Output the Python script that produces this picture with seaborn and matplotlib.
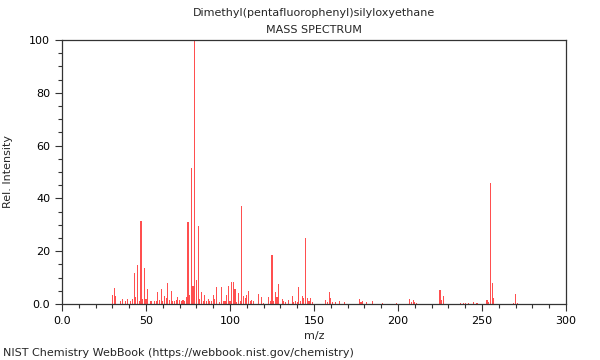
import matplotlib
matplotlib.use('Agg')
import matplotlib.pyplot as plt
import seaborn as sns
import pandas as pd
from matplotlib.ticker import MultipleLocator, FuncFormatter

mz = [30, 31, 32, 35, 36, 38, 39, 41, 42, 43, 44, 45, 46, 47, 48, 49, 50, 51, 53, 55,
      56, 57, 58, 59, 60, 61, 62, 63, 64, 65, 66, 67, 68, 69, 70, 71, 72, 73, 74, 75,
      76, 77, 78, 79, 80, 81, 82, 83, 84, 85, 86, 87, 88, 89, 90, 91, 92, 94, 95, 96,
      97, 98, 99, 100, 101, 102, 103, 104, 105, 106, 107, 108, 109, 110, 111, 112, 113, 114, 117, 119,
      120, 123, 124, 125, 126, 127, 128, 129, 131, 132, 133, 135, 137, 138, 139, 140, 141, 142, 143, 144,
      145, 146, 147, 148, 149, 157, 158, 159, 160, 161, 163, 165, 168, 177, 178, 179, 181, 185, 191, 199,
      207, 208, 209, 210, 211, 225, 226, 227, 237, 239, 240, 242, 245, 247, 253, 254, 255, 256, 257, 269,
      270, 271]
intensidade = [3.4, 6.2, 3.2, 1.0, 2.0, 1.0, 2.0, 1.0, 2.0, 11.9, 2.5, 14.8, 1.0, 31.6, 2.0, 13.8, 2.0, 5.7, 1.0, 1.0,
               1.0, 4.4, 1.5, 5.8, 1.0, 3.0, 2.3, 8.0, 1.5, 5.0, 1.0, 1.0, 1.5, 2.5, 1.5, 1.0, 1.7, 1.0, 2.6, 31.1,
               3.5, 51.4, 6.8, 100.0, 9.0, 29.5, 2.0, 4.5, 1.3, 3.4, 1.0, 2.0, 1.2, 1.3, 3.3, 2.0, 6.3, 0.7, 6.3, 1.0,
               1.0, 3.4, 7.0, 1.0, 8.5, 8.3, 5.7, 0.7, 4.1, 1.0, 37.3, 2.9, 2.3, 3.5, 5.0, 1.0, 1.7, 1.3, 3.8, 2.8,
               0.5, 2.8, 1.3, 18.7, 1.3, 4.4, 2.8, 7.6, 1.9, 1.0, 0.7, 1.6, 3.0, 0.6, 1.0, 0.6, 6.3, 1.0, 3.2, 2.3,
               25.0, 2.3, 1.1, 2.3, 0.6, 1.7, 0.6, 4.6, 2.3, 0.6, 0.6, 1.3, 0.6, 1.9, 0.8, 1.2, 0.6, 1.2, 0.5, 0.5,
               1.9, 0.6, 1.5, 0.8, 0.4, 5.3, 1.6, 2.9, 0.4, 0.5, 0.5, 0.5, 0.7, 0.3, 1.6, 0.6, 46.0, 7.8, 2.2, 0.5,
               3.8, 0.4]

titulo = 'Dimethyl(pentafluorophenyl)silyloxyethane'
subtitulo = 'MASS SPECTRUM'
rodape = 'NIST Chemistry WebBook (https://webbook.nist.gov/chemistry)'

dados_df = pd.DataFrame({'mz': mz, 'int': intensidade})

sns.set_style('white')
plt.rcParams['font.family'] = ['DejaVu Sans']

fig = plt.figure(figsize=(6, 3.6), dpi=100)
ax = fig.add_axes([62/600, 1-304/360, 504/600, 264/360])

sns.barplot(data=dados_df, x='mz', y='int', native_scale=True, width=0.65,
            color='#ff4f4f', saturation=1, errorbar=None, ax=ax, linewidth=0)

ax.set_xlim(0, 300)
ax.set_ylim(0, 100)
ax.xaxis.set_major_locator(MultipleLocator(50))
ax.xaxis.set_minor_locator(MultipleLocator(10))
ax.yaxis.set_major_locator(MultipleLocator(20))
ax.yaxis.set_minor_locator(MultipleLocator(5))
fmt = FuncFormatter(lambda v, p: '0.0' if v == 0 else f'{v:.0f}')
ax.xaxis.set_major_formatter(fmt)
ax.yaxis.set_major_formatter(fmt)
ax.tick_params(which='major', direction='out', length=5, width=0.8, labelsize=8, colors='#333333', labelcolor='black')
ax.tick_params(which='minor', direction='out', length=3, width=0.8, colors='#333333')
ax.tick_params(bottom=True, left=True, which='both')
for s in ax.spines.values():
    s.set_color('#333333')
    s.set_linewidth(0.9)

ax.set_xlabel('m/z', fontsize=8, labelpad=4)
ax.set_ylabel('Rel. Intensity', fontsize=8, labelpad=12)
fig.text(0.5 + 14/600, 1 - 13/360, titulo, ha='center', va='center', fontsize=8)
fig.text(0.5 + 14/600, 1 - 30/360, subtitulo, ha='center', va='center', fontsize=8)
fig.text(3/600, 1 - 353/360, rodape, ha='left', va='center', fontsize=8)

plt.savefig('out.png', dpi=100)
